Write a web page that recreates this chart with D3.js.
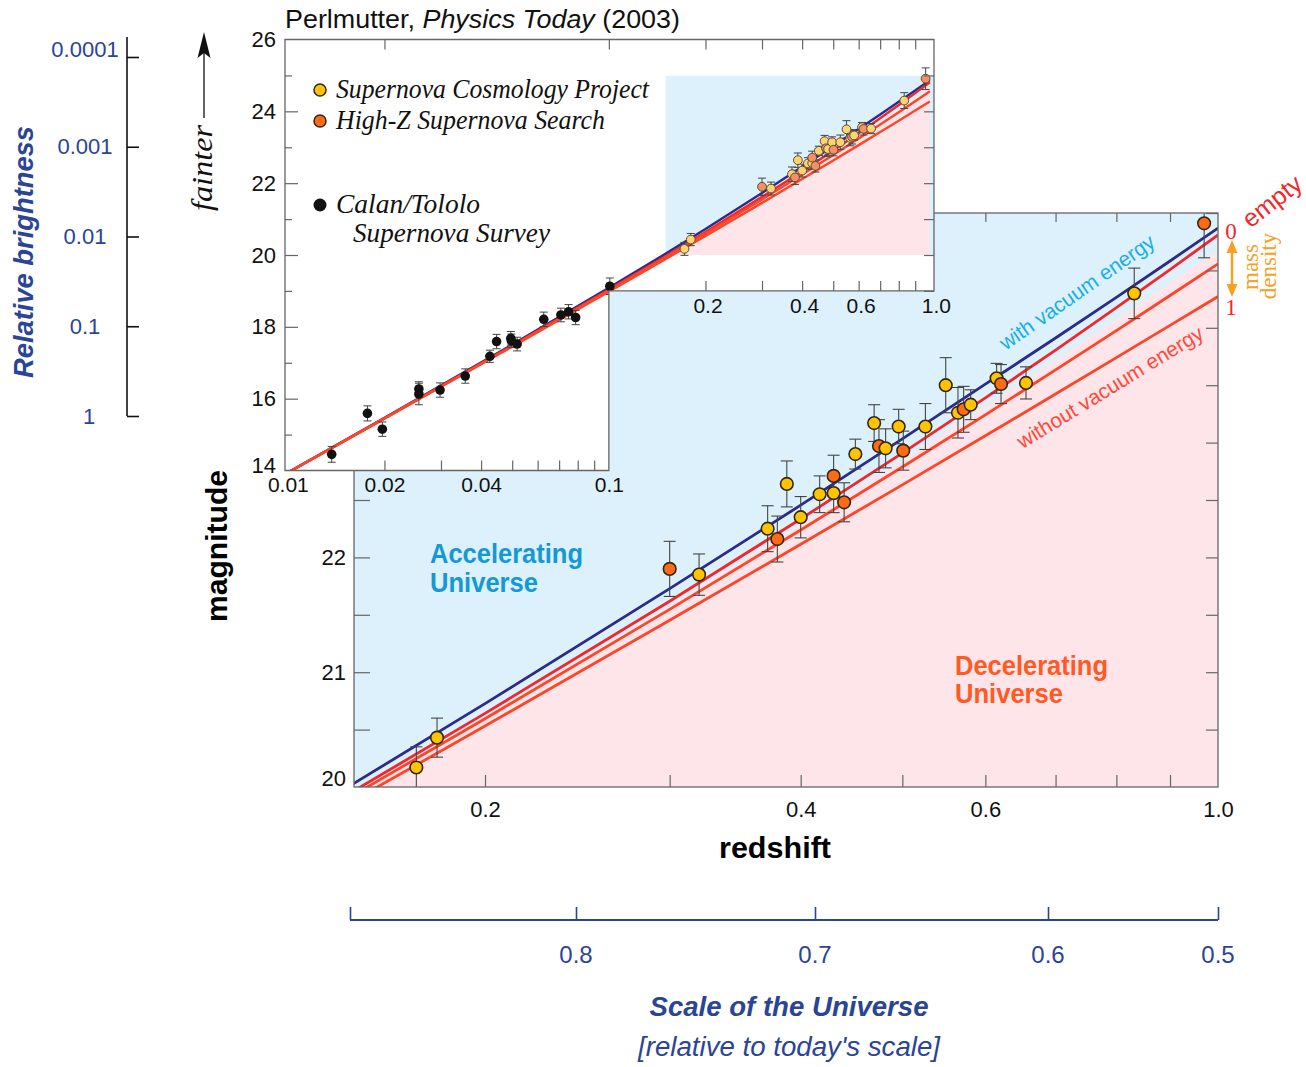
<!DOCTYPE html>
<html><head><meta charset="utf-8">
<script src="https://cdn.jsdelivr.net/npm/d3@7"></script>
<style>
body{margin:0;background:#fff}
svg text{font-family:"Liberation Sans",Arial,sans-serif}
.narrow{font-family:"Liberation Sans Narrow","Arial Narrow","Liberation Sans",sans-serif}
.serif{font-family:"Liberation Serif","Times New Roman",serif}
</style></head><body>
<svg id="chart" width="1306" height="1067"></svg>
<script>
// model curves: magnitude at these redshifts
const modelZ       = [0.01, 0.02, 0.05, 0.1, 0.15, 0.2, 0.3, 0.4, 0.5, 0.6, 0.7, 0.8, 0.9, 1.0];
const withVacuum   = [13.946, 15.468, 17.505, 19.085, 20.032, 20.726, 21.728, 22.455, 23.033, 23.509, 23.911, 24.265, 24.582, 24.869];
const emptyUniv    = [13.940, 15.456, 17.477, 19.035, 19.967, 20.641, 21.618, 22.335, 22.908, 23.389, 23.806, 24.175, 24.507, 24.809];
const lowMass      = [13.938, 15.452, 17.466, 19.014, 19.933, 20.595, 21.547, 22.239, 22.787, 23.242, 23.633, 23.976, 24.281, 24.557];
const fullMass     = [13.935, 15.445, 17.450, 18.981, 19.885, 20.531, 21.452, 22.114, 22.632, 23.059, 23.423, 23.740, 24.021, 24.272];

// Supernova Cosmology Project
const scpZ   = [0.172, 0.180, 0.320, 0.372, 0.388, 0.400, 0.417, 0.430, 0.451, 0.470, 0.482, 0.496, 0.526, 0.550, 0.565, 0.581, 0.615, 0.656, 0.832];
const scpMag = [20.17, 20.43, 21.85, 22.25, 22.64, 22.35, 22.55, 22.56, 22.90, 23.17, 22.95, 23.14, 23.14, 23.50, 23.26, 23.33, 23.56, 23.52, 24.30];
const scpErr = [0.18, 0.17, 0.18, 0.20, 0.20, 0.18, 0.16, 0.17, 0.13, 0.16, 0.17, 0.15, 0.20, 0.24, 0.22, 0.13, 0.13, 0.14, 0.22];

// High-Z Supernova Search
const hzZ   = [0.300, 0.380, 0.430, 0.440, 0.475, 0.501, 0.572, 0.621, 0.970];
const hzMag = [21.90, 22.16, 22.71, 22.48, 22.97, 22.93, 23.29, 23.51, 24.91];
const hzErr = [0.24, 0.20, 0.18, 0.17, 0.23, 0.17, 0.20, 0.17, 0.30];

// Calan/Tololo
const ctZ   = [0.0137, 0.0177, 0.0197, 0.0256, 0.0256, 0.0298, 0.0357, 0.0426, 0.0447, 0.0495, 0.0497, 0.0518, 0.0627, 0.0709, 0.0749, 0.0788, 0.1007];
const ctMag = [14.45, 15.59, 15.15, 16.27, 16.13, 16.24, 16.63, 17.18, 17.59, 17.68, 17.61, 17.52, 18.21, 18.33, 18.42, 18.26, 19.13];
const ctErr = [0.22, 0.21, 0.20, 0.20, 0.30, 0.20, 0.20, 0.17, 0.20, 0.19, 0.19, 0.19, 0.20, 0.19, 0.20, 0.20, 0.23];

const brightTicks = [1, 0.1, 0.01, 0.001, 0.0001];
const scaleTicks  = [0.8, 0.7, 0.6, 0.5];

const svg = d3.select("#chart");
const defs = svg.append("defs");

const xMain = d3.scaleLog().domain([0.15, 1]).range([354, 1218]);
const yMain = d3.scaleLinear().domain([20, 25]).range([787, 213]);
const xIn = d3.scaleLog().domain([0.0098, 1.03]).range([285, 934]);
const yIn = d3.scaleLinear().domain([14, 26]).range([470.5, 39.5]);
const bright = d3.scaleLog().domain([1, 0.0001]).range([416, 57]);
const aScale = d3.scaleLinear().domain([0.87, 0.8, 0.7, 0.6, 0.5]).range([350, 576, 815, 1048, 1218]);

const boundary = modelZ.map((z, i) => (emptyUniv[i] + lowMass[i]) / 2);

const curves = [
  {vals: withVacuum, color: "#2b2b8c"},
  {vals: emptyUniv, color: "#f3262b"},
  {vals: lowMass, color: "#ff4428"},
  {vals: fullMass, color: "#ff4428"}
];

// merge high-z sets so overlaps draw in redshift order
const highZ = scpZ.map((z, i) => ({z, m: scpMag[i], e: scpErr[i], s: 0}))
  .concat(hzZ.map((z, i) => ({z, m: hzMag[i], e: hzErr[i], s: 1})))
  .sort((a, b) => a.z - b.z);
const lowZ = ctZ.map((z, i) => ({z, m: ctMag[i], e: ctErr[i]}));

function fmt(d){ return d === 1 ? "1.0" : String(d); }
// squeeze text to a given width (no condensed font installed)
function squeeze(sel, w){ sel.attr("textLength", w).attr("lengthAdjust", "spacingAndGlyphs"); }

// ---------- main plot ----------
const [mx0, mx1] = xMain.range(), [my0, my1] = yMain.range();
defs.append("clipPath").attr("id", "clipMain").append("rect")
  .attr("x", mx0).attr("y", my1).attr("width", mx1 - mx0).attr("height", my0 - my1);

const main = svg.append("g");
const mplot = main.append("g").attr("clip-path", "url(#clipMain)");
mplot.append("rect").attr("x", mx0).attr("y", my1).attr("width", mx1 - mx0).attr("height", my0 - my1)
  .attr("fill", "#dcf1fb");
mplot.append("path")
  .datum(boundary)
  .attr("d", d3.area().x((d, i) => xMain(modelZ[i])).y0(my0 + 20).y1(d => yMain(d)))
  .attr("fill", "#fde5e9");

const lineMain = d3.line().x((d, i) => xMain(modelZ[i])).y(d => yMain(d));
mplot.selectAll(".curve").data(curves).join("path")
  .attr("d", d => lineMain(d.vals))
  .attr("fill", "none").attr("stroke", d => d.color).attr("stroke-width", 2.8);

// error bars
const eb = mplot.append("g").attr("stroke", "#444").attr("stroke-width", 1.1);
highZ.forEach(p => {
  const x = xMain(p.z), ya = yMain(p.m - p.e), yb = yMain(p.m + p.e);
  eb.append("line").attr("x1", x).attr("x2", x).attr("y1", ya).attr("y2", yb);
  eb.append("line").attr("x1", x - 6).attr("x2", x + 6).attr("y1", ya).attr("y2", ya);
  eb.append("line").attr("x1", x - 6).attr("x2", x + 6).attr("y1", yb).attr("y2", yb);
});
main.append("g").selectAll("circle").data(highZ).join("circle")
  .attr("cx", d => xMain(d.z)).attr("cy", d => yMain(d.m)).attr("r", 6.3)
  .attr("fill", d => d.s ? "#ff6b12" : "#ffc400")
  .attr("stroke", "#33261a").attr("stroke-width", 1.6);

// frame and ticks
main.append("rect").attr("x", mx0).attr("y", my1).attr("width", mx1 - mx0).attr("height", my0 - my1)
  .attr("fill", "none").attr("stroke", "#666").attr("stroke-width", 1.3);

function styleTicks(g){ g.select(".domain").remove(); g.selectAll("line").attr("stroke", "#666").attr("stroke-width", 1.2); }

main.append("g").attr("transform", `translate(0,${my0})`)
  .call(d3.axisTop(xMain).tickValues([0.2, 0.3, 0.4, 0.5, 0.6, 0.7, 0.8, 0.9]).tickSize(12).tickFormat(""))
  .call(styleTicks);
main.append("g").attr("transform", `translate(0,${my1})`)
  .call(d3.axisBottom(xMain).tickValues([0.2, 0.3, 0.4, 0.5, 0.6, 0.7, 0.8, 0.9]).tickSize(9).tickFormat(""))
  .call(styleTicks);
main.append("g").attr("transform", `translate(${mx0},0)`)
  .call(d3.axisRight(yMain).tickValues(d3.range(20.5, 25.01, 0.5)).tickSize(16).tickFormat(""))
  .call(styleTicks);
main.append("g").attr("transform", `translate(${mx1},0)`)
  .call(d3.axisLeft(yMain).tickValues(d3.range(20.5, 25.01, 0.5)).tickSize(12).tickFormat(""))
  .call(styleTicks);

const xLab = main.append("g").attr("transform", `translate(0,${my0})`)
  .call(d3.axisBottom(xMain).tickValues([0.2, 0.4, 0.6, 1.0]).tickSize(0).tickPadding(14).tickFormat(fmt));
xLab.select(".domain").remove();
xLab.selectAll("text").attr("class", "narrow").attr("font-size", 22).attr("fill", "#111");

const yLab = main.append("g").attr("transform", `translate(${mx0},0)`)
  .call(d3.axisLeft(yMain).tickValues([20, 21, 22]).tickSize(0).tickPadding(8).tickFormat(d3.format("d")));
yLab.select(".domain").remove();
yLab.selectAll("text").attr("class", "narrow").attr("font-size", 22).attr("fill", "#111")
  .attr("dy", d => d === 20 ? "-0.05em" : "0.32em");

main.append("text").attr("x", 775).attr("y", 858).attr("text-anchor", "middle")
  .attr("class", "narrow").attr("font-weight", "bold").attr("font-size", 29).text("redshift")
  .call(squeeze, 112);
main.append("text").attr("transform", "translate(227,546) rotate(-90)").attr("text-anchor", "middle")
  .attr("font-weight", "bold").attr("font-size", 29).text("magnitude")
  .call(squeeze, 152);

[["Accelerating", 563, 153], ["Universe", 592, 108]].forEach(([t, y, w]) =>
  main.append("text").attr("x", 430).attr("y", y).attr("class", "narrow").attr("font-weight", "bold")
    .attr("font-size", 28).attr("fill", "#1598d6").text(t).call(squeeze, w));
[["Decelerating", 675, 153], ["Universe", 703, 108]].forEach(([t, y, w]) =>
  main.append("text").attr("x", 955).attr("y", y).attr("class", "narrow").attr("font-weight", "bold")
    .attr("font-size", 28).attr("fill", "#ff5a24").text(t).call(squeeze, w));

main.append("text").attr("transform", "translate(1077,292) rotate(-35)").attr("text-anchor", "middle")
  .attr("dy", "0.35em").attr("font-size", 21).attr("fill", "#19aee8").text("with vacuum energy")
  .call(squeeze, 184);
main.append("text").attr("transform", "translate(1110,387) rotate(-31.5)").attr("text-anchor", "middle")
  .attr("dy", "0.35em").attr("font-size", 21).attr("fill", "#ff4a3a").text("without vacuum energy")
  .call(squeeze, 214);

// right side: empty / mass density
main.append("text").attr("transform", "translate(1272,201) rotate(-38)").attr("text-anchor", "middle")
  .attr("dy", "0.35em").attr("font-size", 25).attr("fill", "#f0282a").text("empty");
main.append("text").attr("x", 1231).attr("y", 239).attr("text-anchor", "middle").attr("class", "serif")
  .attr("font-size", 23).attr("fill", "#f0282a").text("0");
main.append("text").attr("x", 1231).attr("y", 315).attr("text-anchor", "middle").attr("class", "serif")
  .attr("font-size", 23).attr("fill", "#f0282a").text("1");
main.append("line").attr("x1", 1232).attr("x2", 1232).attr("y1", 250).attr("y2", 287)
  .attr("stroke", "#f7a023").attr("stroke-width", 2.5);
main.append("path").attr("d", "M1232,240 L1226.5,253 L1237.5,253 Z").attr("fill", "#f7a023");
main.append("path").attr("d", "M1232,297 L1226.5,284 L1237.5,284 Z").attr("fill", "#f7a023");
main.append("text").attr("transform", "translate(1258,267) rotate(-90)").attr("text-anchor", "middle")
  .attr("class", "serif").attr("font-size", 23).attr("fill", "#f7a023").text("mass");
main.append("text").attr("transform", "translate(1276,266) rotate(-90)").attr("text-anchor", "middle")
  .attr("class", "serif").attr("font-size", 23).attr("fill", "#f7a023").text("density");

// ---------- inset ----------
const [ix0, ix1] = xIn.range();
const iTop = yIn(26), iStep = yIn(19), iBot = yIn(14), iMid = xIn(0.1);
const insetPts = [[ix0, iTop], [ix1, iTop], [ix1, iStep], [iMid, iStep], [iMid, iBot], [ix0, iBot]];
const insetPath = "M" + insetPts.map(p => p.join(",")).join("L") + "Z";
defs.append("clipPath").attr("id", "clipIn").append("path").attr("d", insetPath);

const inset = svg.append("g");
inset.append("path").attr("d", insetPath).attr("fill", "#fff");
const iplot = inset.append("g").attr("clip-path", "url(#clipIn)");

const bx0 = xIn(0.15), by0 = yIn(20), by1 = yIn(25);
defs.append("clipPath").attr("id", "clipBox").append("rect")
  .attr("x", bx0).attr("y", by1).attr("width", ix1 - bx0).attr("height", by0 - by1);
const box = iplot.append("g").attr("clip-path", "url(#clipBox)");
box.append("rect").attr("x", bx0).attr("y", by1).attr("width", ix1 - bx0).attr("height", by0 - by1).attr("fill", "#dcf1fb");
box.append("path").datum(boundary)
  .attr("d", d3.area().x((d, i) => xIn(modelZ[i])).y0(by0 + 5).y1(d => yIn(d)))
  .attr("fill", "#fde5e9");

const lineIn = d3.line().x((d, i) => xIn(modelZ[i])).y(d => yIn(d));
iplot.selectAll(".curve").data(curves).join("path")
  .attr("d", d => lineIn(d.vals))
  .attr("fill", "none").attr("stroke", d => d.color).attr("stroke-width", 2.4);

const ieb = iplot.append("g").attr("stroke", "#444").attr("stroke-width", 1);
highZ.concat(lowZ).forEach(p => {
  const x = xIn(p.z), ya = yIn(p.m - p.e), yb = yIn(p.m + p.e);
  ieb.append("line").attr("x1", x).attr("x2", x).attr("y1", ya).attr("y2", yb);
  ieb.append("line").attr("x1", x - 4).attr("x2", x + 4).attr("y1", ya).attr("y2", ya);
  ieb.append("line").attr("x1", x - 4).attr("x2", x + 4).attr("y1", yb).attr("y2", yb);
});
iplot.append("g").selectAll("circle").data(highZ).join("circle")
  .attr("cx", d => xIn(d.z)).attr("cy", d => yIn(d.m)).attr("r", 4.4)
  .attr("fill", d => d.s ? "#f59062" : "#ffd36e")
  .attr("stroke", "#5a4a3a").attr("stroke-width", 1);
iplot.append("g").selectAll("circle").data(lowZ).join("circle")
  .attr("cx", d => xIn(d.z)).attr("cy", d => yIn(d.m)).attr("r", 4.8).attr("fill", "#111");

inset.append("path").attr("d", insetPath).attr("fill", "none").attr("stroke", "#666").attr("stroke-width", 1.3);

inset.append("g").attr("transform", `translate(${ix0},0)`)
  .call(d3.axisRight(yIn).tickValues(d3.range(15, 26, 1)).tickSize(12).tickFormat(""))
  .call(styleTicks)
  .selectAll(".tick line").attr("x2", d => d % 2 ? 7 : 13);
inset.append("g").attr("transform", `translate(${ix1},0)`)
  .call(d3.axisLeft(yIn).tickValues(d3.range(19, 26, 1)).tickSize(10).tickFormat(""))
  .call(styleTicks);
inset.append("g").attr("transform", `translate(0,${iBot})`)
  .call(d3.axisTop(xIn).tickValues([0.02, 0.03, 0.04, 0.05, 0.06, 0.07, 0.08, 0.09]).tickSize(10).tickFormat(""))
  .call(styleTicks);
inset.append("g").attr("transform", `translate(0,${iStep})`)
  .call(d3.axisTop(xIn).tickValues([0.2, 0.3, 0.4, 0.5, 0.6, 0.7, 0.8, 0.9]).tickSize(10).tickFormat(""))
  .call(styleTicks);
inset.append("g").attr("transform", `translate(0,${iTop})`)
  .call(d3.axisBottom(xIn).tickValues([0.02, 0.1, 0.2, 0.3, 0.4, 0.5, 0.6, 0.7, 0.8, 0.9]).tickSize(10).tickFormat(""))
  .call(styleTicks);

function labels(g){ g.select(".domain").remove(); g.selectAll("text").attr("font-size", 21).attr("fill", "#111"); }
inset.append("g").attr("transform", `translate(0,${iBot})`)
  .call(d3.axisBottom(xIn).tickValues([0.01, 0.02, 0.04, 0.1]).tickSize(0).tickPadding(7).tickFormat(fmt))
  .call(labels);
inset.append("g").attr("transform", `translate(0,${iStep})`)
  .call(d3.axisBottom(xIn).tickValues([0.2, 0.4, 0.6, 1.0]).tickSize(0).tickPadding(7).tickFormat(fmt))
  .call(labels)
  .selectAll("text").attr("dx", d => d === 1 ? 6 : 2);
inset.append("g").attr("transform", `translate(${ix0},0)`)
  .call(d3.axisLeft(yIn).tickValues(d3.range(14, 27, 2)).tickSize(0).tickPadding(9).tickFormat(d3.format("d")))
  .call(labels)
  .selectAll("text").attr("font-size", 22).attr("dy", d => d === 14 ? "0.1em" : "0.32em");

// legend
const legend = [
  {label: ["Supernova Cosmology Project"], w: [313], y: 90, fill: "#ffc400", stroke: "#33261a", r: 6},
  {label: ["High-Z Supernova Search"], w: [269], y: 121, fill: "#ff6b12", stroke: "#33261a", r: 6},
  {label: ["Calan/Tololo", "Supernova Survey"], w: [144, 197], y: 205, fill: "#111", stroke: "none", r: 6.5}
];
legend.forEach(l => {
  inset.append("circle").attr("cx", 320).attr("cy", l.y).attr("r", l.r)
    .attr("fill", l.fill).attr("stroke", l.stroke).attr("stroke-width", 1.5);
  l.label.forEach((t, k) => inset.append("text")
    .attr("x", k ? 353 : 336).attr("y", l.y + 8 + k * 29).attr("class", "serif")
    .attr("font-style", "italic").attr("font-size", 28).attr("fill", "#111").text(t)
    .call(squeeze, l.w[k]));
});

// title
const title = svg.append("text").attr("x", 285).attr("y", 28).attr("font-size", 26).attr("fill", "#111");
title.append("tspan").text("Perlmutter, ");
title.append("tspan").attr("font-style", "italic").text("Physics Today");
title.append("tspan").text(" (2003)");
title.call(squeeze, 395);

// ---------- brightness axis ----------
const bcol = "#2a4496";
svg.append("line").attr("x1", 127).attr("x2", 127).attr("y1", 37).attr("y2", bright(1))
  .attr("stroke", "#111").attr("stroke-width", 1.6);
const bAx = svg.append("g").attr("transform", "translate(127,0)")
  .call(d3.axisRight(bright).tickValues(brightTicks).tickSize(12).tickFormat(""));
bAx.select(".domain").remove();
bAx.selectAll("line").attr("stroke", "#111").attr("stroke-width", 1.6);
svg.append("g").selectAll("text").data(brightTicks).join("text")
  .attr("x", d => d === 1 ? 89 : 85).attr("y", d => bright(d)).attr("dy", d => d === 0.0001 ? "-0.0em" : "0.35em")
  .attr("text-anchor", "middle").attr("font-size", 22).attr("fill", bcol).text(d => String(d));
svg.append("text").attr("transform", "translate(33,252) rotate(-90)").attr("text-anchor", "middle")
  .attr("font-weight", "bold").attr("font-style", "italic").attr("font-size", 27).attr("fill", bcol)
  .text("Relative brightness").call(squeeze, 252);

// fainter arrow
svg.append("line").attr("x1", 204).attr("x2", 204).attr("y1", 118).attr("y2", 50)
  .attr("stroke", "#111").attr("stroke-width", 1.3);
svg.append("path").attr("d", "M204,32 L197.5,58 L204,53 L210.5,58 Z").attr("fill", "#111");
svg.append("text").attr("transform", "translate(212,168) rotate(-90)").attr("text-anchor", "middle")
  .attr("class", "serif").attr("font-style", "italic").attr("font-size", 30).attr("fill", "#111").text("fainter")
  .call(squeeze, 86);

// ---------- scale of the universe axis ----------
const sAxY = 920;
svg.append("line").attr("x1", aScale(0.87)).attr("x2", aScale(0.5)).attr("y1", sAxY).attr("y2", sAxY)
  .attr("stroke", bcol).attr("stroke-width", 2);
const sAx = svg.append("g").attr("transform", `translate(0,${sAxY})`)
  .call(d3.axisTop(aScale).tickValues([0.87].concat(scaleTicks)).tickSize(13).tickFormat(""));
sAx.select(".domain").remove();
sAx.selectAll("line").attr("stroke", bcol).attr("stroke-width", 1.6);
svg.append("g").selectAll("text").data(scaleTicks).join("text")
  .attr("x", d => aScale(d)).attr("y", 963).attr("text-anchor", "middle").attr("class", "narrow")
  .attr("font-size", 24).attr("fill", bcol).text(d => String(d));
svg.append("text").attr("x", 789).attr("y", 1016).attr("text-anchor", "middle").attr("class", "narrow")
  .attr("font-weight", "bold").attr("font-style", "italic").attr("font-size", 28).attr("fill", bcol)
  .text("Scale of the Universe").call(squeeze, 279);
svg.append("text").attr("x", 789).attr("y", 1056).attr("text-anchor", "middle").attr("class", "narrow")
  .attr("font-style", "italic").attr("font-size", 27).attr("fill", bcol)
  .text("[relative to today's scale]").call(squeeze, 302);
</script>
</body></html>
